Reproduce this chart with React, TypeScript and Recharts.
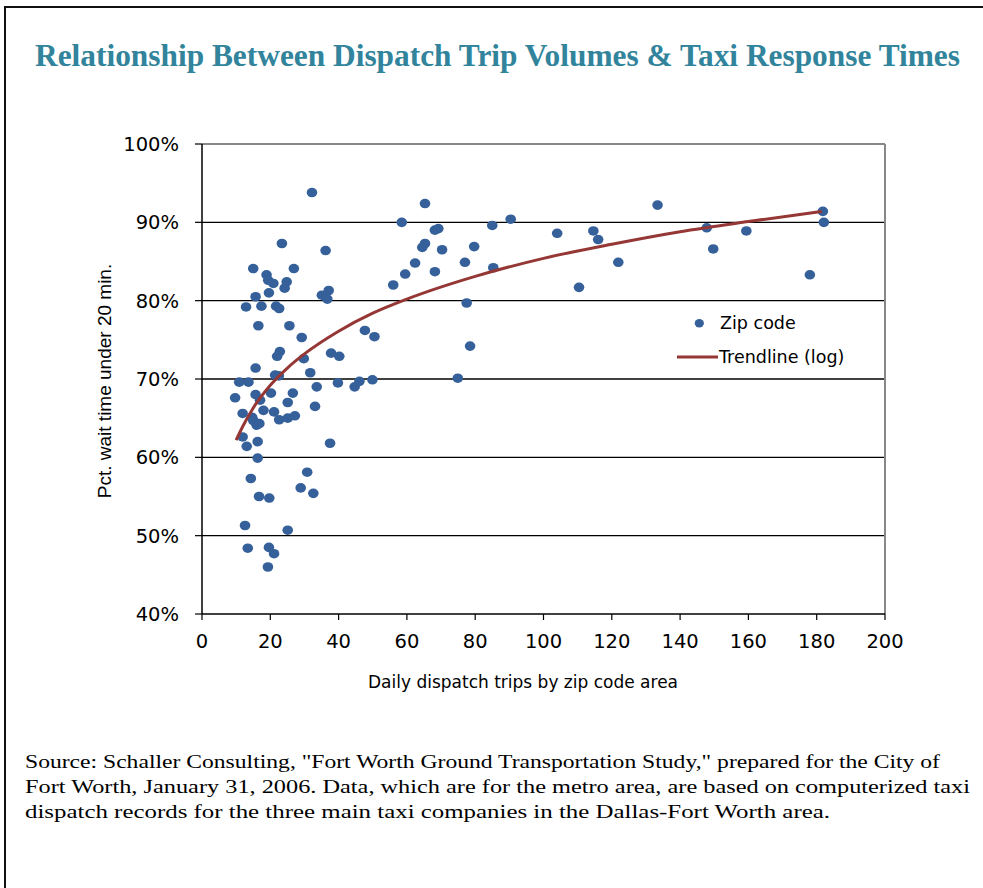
import React from 'react';
import { ScatterChart, Scatter, XAxis, YAxis, CartesianGrid, ReferenceLine, Legend } from 'recharts';

const zipTrips = [
  32.2, 23.4, 36.2, 15.0, 26.9, 18.9, 19.4, 20.9, 24.8, 24.2, 19.6, 35.1, 37.1, 36.7, 15.7,
  12.9, 17.4, 21.7, 22.6, 16.5, 25.6, 29.2, 22.8, 22.0, 29.8, 37.8, 40.2, 15.7, 31.7, 21.4,
  22.5, 10.9, 13.6, 39.8, 44.7, 46.1, 33.6, 49.9, 15.7, 20.2, 26.6, 9.7, 17.0, 25.1, 33.1,
  18.0, 21.1, 11.9, 14.7, 15.0, 22.6, 25.1, 27.2, 16.8, 16.0, 11.9, 13.1, 16.3, 37.5, 16.3,
  14.3, 30.8, 28.9, 32.6, 16.7, 19.7, 12.6, 25.1, 13.4, 19.6, 21.1, 19.3, 65.3, 58.5, 69.2,
  68.2, 85.0, 90.4, 65.3, 64.5, 70.3, 79.7, 62.4, 77.0, 59.5, 68.2, 85.3, 56.0, 77.5, 47.7,
  50.5, 78.5, 74.9, 104.0, 114.6, 116.0, 110.4, 121.9, 133.4, 147.8, 149.7, 159.4, 178.0, 181.8, 182.1,
];
const zipPct = [
  93.8, 87.3, 86.4, 84.1, 84.1, 83.3, 82.6, 82.2, 82.4, 81.6, 81.0, 80.7, 81.3, 80.2, 80.5,
  79.2, 79.3, 79.3, 79.0, 76.8, 76.8, 75.3, 73.5, 72.9, 72.6, 73.3, 72.9, 71.4, 70.8, 70.5,
  70.4, 69.6, 69.6, 69.5, 69.0, 69.7, 69.0, 69.9, 68.0, 68.2, 68.2, 67.6, 67.3, 67.0, 66.5,
  66.0, 65.8, 65.6, 65.1, 64.7, 64.8, 65.0, 65.3, 64.3, 64.1, 62.6, 61.4, 62.0, 61.8, 59.9,
  57.3, 58.1, 56.1, 55.4, 55.0, 54.8, 51.3, 50.7, 48.4, 48.5, 47.7, 46.0, 92.4, 90.0, 89.2,
  89.0, 89.6, 90.4, 87.3, 86.8, 86.5, 86.9, 84.8, 84.9, 83.4, 83.7, 84.2, 82.0, 79.7, 76.2,
  75.4, 74.2, 70.1, 88.6, 88.9, 87.8, 81.7, 84.9, 92.2, 89.3, 86.6, 88.9, 83.3, 91.4, 90.0,
];

const trendTrips = [10, 12, 15, 20, 25, 30, 40, 50, 60, 80, 100, 120, 140, 160, 181.5];
const trendPct = [62.2, 64.0, 66.3, 69.2, 71.4, 73.2, 76.1, 78.4, 80.2, 83.1, 85.4, 87.2, 88.8, 90.1, 91.4];

const xTicks = [0, 20, 40, 60, 80, 100, 120, 140, 160, 180, 200];
const yTicks = [40, 50, 60, 70, 80, 90, 100];
const gridValues = [50, 60, 70, 80, 90];

const titleText = 'Relationship Between Dispatch Trip Volumes & Taxi Response Times';
const xLabel = 'Daily dispatch trips by zip code area';
const yLabel = 'Pct. wait time under 20 min.';
const sourceLines = [
  'Source: Schaller Consulting, "Fort Worth Ground Transportation Study," prepared for the City of',
  'Fort Worth, January 31, 2006.  Data, which are for the metro area, are based on computerized taxi',
  'dispatch records for the three main taxi companies in the Dallas-Fort Worth area.',
];

const zipData = zipTrips.map((x, i) => ({ x, y: zipPct[i] }));
const trendData = trendTrips.map((x, i) => ({ x, y: trendPct[i] }));

const DOT = '#35609A';
const TREND = '#953735';
const TEAL = '#31849B';

const tickFont = { fontFamily: 'DejaVu Sans', fontSize: 19.5, fill: '#000' };

const DotShape = (props: any) => {
  const { cx, cy } = props;
  if (cx == null || cy == null) return <g />;
  return <ellipse cx={cx} cy={cy} rx={5.3} ry={4.8} fill={DOT} />;
};

const NoShape = () => <g />;

const LegendBox = () => (
  <svg width={200} height={70} style={{ overflow: 'visible', display: 'block' }}>
    <ellipse cx={29.3} cy={18.3} rx={4.6} ry={4.2} fill={DOT} />
    <text x={50} y={24} fontFamily="DejaVu Sans" fontSize={17.5} fill="#000">Zip code</text>
    <line x1={7} y1={52} x2={48} y2={52} stroke={TREND} strokeWidth={3} />
    <text x={49} y={58} fontFamily="DejaVu Sans" fontSize={17.5} fill="#000">Trendline (log)</text>
  </svg>
);

export default function App() {
  return (
    <div style={{ position: 'absolute', left: 0, top: 0, width: 983, height: 888, background: '#fff', overflow: 'hidden' }}>
      <div style={{ position: 'absolute', left: 4, top: 6, width: 1200, height: 1200, borderTop: '2px solid #111', borderLeft: '2px solid #111' }} />
      <div style={{ position: 'absolute', left: 0, top: 0 }}>
        <ScatterChart width={983} height={888} margin={{ top: 144, right: 98, bottom: 214, left: 122 }}>
          <CartesianGrid horizontal vertical={false} horizontalValues={gridValues} stroke="#000" strokeWidth={1.4} />
          <XAxis
            type="number"
            dataKey="x"
            domain={[0, 200]}
            ticks={xTicks}
            interval={0}
            allowDataOverflow
            height={60}
            tickSize={6}
            tickMargin={14}
            tick={tickFont}
            axisLine={{ stroke: '#000', strokeWidth: 1.5 }}
            tickLine={{ stroke: '#000', strokeWidth: 1.2 }}
          />
          <YAxis
            type="number"
            dataKey="y"
            domain={[40, 100]}
            ticks={yTicks}
            interval={0}
            allowDataOverflow
            width={80}
            tickSize={7}
            tickMargin={16}
            tick={tickFont}
            tickFormatter={(v: number) => `${v}%`}
            axisLine={{ stroke: '#000', strokeWidth: 1.5 }}
            tickLine={{ stroke: '#000', strokeWidth: 1.2 }}
          />
          <ReferenceLine y={100} stroke="#888" strokeWidth={2} />
          <ReferenceLine x={200} stroke="#888" strokeWidth={2} />
          <Scatter name="Zip code" data={zipData} fill={DOT} shape={DotShape} isAnimationActive={false} />
          <Scatter
            name="Trendline (log)"
            data={trendData}
            line={{ stroke: TREND, strokeWidth: 3 }}
            lineJointType="monotoneX"
            shape={NoShape}
            isAnimationActive={false}
          />
          <Legend
            layout="vertical"
            align="right"
            verticalAlign="middle"
            content={LegendBox}
            wrapperStyle={{ position: 'absolute', left: 670, top: 305, width: 0, height: 0 }}
          />
        </ScatterChart>
      </div>
      <svg width={983} height={888} style={{ position: 'absolute', left: 0, top: 0, pointerEvents: 'none' }}>
        <text x={35} y={66} fontFamily="Liberation Serif" fontWeight="bold" fontSize={31} fill={TEAL} textLength={925} lengthAdjust="spacingAndGlyphs">
          {titleText}
        </text>
        <text x={523} y={688} textAnchor="middle" fontFamily="DejaVu Sans" fontSize={17} fill="#000">
          {xLabel}
        </text>
        <text x={0} y={0} transform="translate(111,381) rotate(-90)" textAnchor="middle" fontFamily="Liberation Sans" fontSize={19} fill="#000">
          {yLabel}
        </text>
        {sourceLines.map((line, i) => (
          <text
            key={i}
            x={25}
            y={768 + i * 25}
            fontFamily="Liberation Serif"
            fontSize={19.5}
            fill="#000"
            textLength={[915, 945, 805][i]}
            lengthAdjust="spacingAndGlyphs"
          >
            {line}
          </text>
        ))}
      </svg>
    </div>
  );
}
